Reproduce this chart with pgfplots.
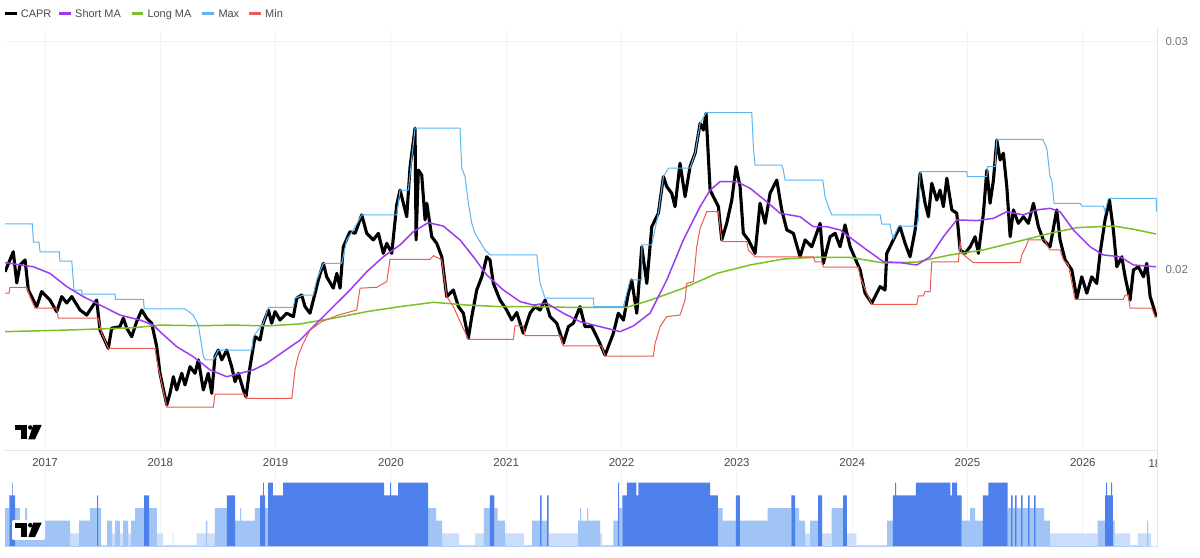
\documentclass[border=0pt]{standalone}
\usepackage{pgfplots}
\pgfplotsset{compat=1.18}
\usepackage{pgfplotstable}
\usepackage{fontspec}
\setmainfont{Liberation Sans}
\definecolor{shortc}{RGB}{155,60,240}
\definecolor{longc}{RGB}{124,192,40}
\definecolor{maxc}{RGB}{92,182,242}
\definecolor{minc}{RGB}{236,92,82}
\definecolor{gridc}{RGB}{241,242,245}
\definecolor{sepc}{RGB}{226,228,234}
\definecolor{labc}{RGB}{72,74,82}
\definecolor{ylabc}{RGB}{112,114,122}
\definecolor{bdark}{RGB}{78,128,235}
\definecolor{blight}{RGB}{160,196,246}
\definecolor{bvlight}{RGB}{202,221,250}

\pgfplotstableread{
x y
2016.653 0.01989
2016.725 0.02077
2016.755 0.01940
2016.783 0.02019
2016.827 0.02041
2016.855 0.01909
2016.899 0.01865
2016.928 0.01836
2016.971 0.01902
2017.043 0.01865
2017.101 0.01814
2017.145 0.01880
2017.188 0.01852
2017.232 0.01880
2017.304 0.01821
2017.362 0.01799
2017.448 0.01865
2017.477 0.01733
2017.549 0.01653
2017.578 0.01741
2017.650 0.01748
2017.679 0.01785
2017.709 0.01741
2017.752 0.01704
2017.795 0.01770
2017.839 0.01821
2017.882 0.01785
2017.925 0.01763
2017.969 0.01660
2017.997 0.01543
2018.056 0.01404
2018.084 0.01455
2018.113 0.01528
2018.142 0.01470
2018.186 0.01543
2018.214 0.01492
2018.258 0.01572
2018.301 0.01543
2018.330 0.01602
2018.373 0.01470
2018.416 0.01543
2018.446 0.01455
2018.474 0.01616
2018.503 0.01645
2018.533 0.01602
2018.576 0.01645
2018.619 0.01572
2018.648 0.01506
2018.677 0.01543
2018.720 0.01470
2018.743 0.01440
2018.778 0.01572
2018.821 0.01704
2018.865 0.01689
2018.893 0.01763
2018.937 0.01821
2018.966 0.01763
2018.995 0.01814
2019.038 0.01777
2019.096 0.01807
2019.154 0.01792
2019.183 0.01873
2019.226 0.01887
2019.255 0.01836
2019.298 0.01807
2019.342 0.01895
2019.370 0.01953
2019.414 0.02026
2019.443 0.01967
2019.500 0.01917
2019.530 0.01982
2019.559 0.01917
2019.587 0.02099
2019.645 0.02165
2019.689 0.02158
2019.747 0.02239
2019.790 0.02158
2019.847 0.02129
2019.891 0.02158
2019.934 0.02070
2019.964 0.02114
2020.007 0.02070
2020.050 0.02283
2020.079 0.02348
2020.137 0.02231
2020.166 0.02451
2020.209 0.02620
2020.218 0.02129
2020.238 0.02436
2020.267 0.02414
2020.296 0.02217
2020.311 0.02290
2020.354 0.02143
2020.397 0.02114
2020.441 0.02055
2020.484 0.01880
2020.541 0.01909
2020.585 0.01836
2020.628 0.01807
2020.671 0.01697
2020.701 0.01792
2020.744 0.01909
2020.788 0.01967
2020.831 0.02055
2020.859 0.02041
2020.888 0.01938
2020.946 0.01865
2021.004 0.01821
2021.048 0.01777
2021.091 0.01810
2021.148 0.01719
2021.206 0.01807
2021.250 0.01836
2021.293 0.01821
2021.337 0.01865
2021.380 0.01792
2021.438 0.01763
2021.495 0.01675
2021.539 0.01748
2021.582 0.01763
2021.640 0.01836
2021.683 0.01748
2021.742 0.01748
2021.799 0.01689
2021.857 0.01623
2021.929 0.01719
2021.972 0.01807
2022.016 0.01777
2022.059 0.01895
2022.088 0.01953
2022.132 0.01807
2022.175 0.02099
2022.219 0.01938
2022.262 0.02187
2022.319 0.02246
2022.363 0.02407
2022.392 0.02363
2022.435 0.02334
2022.464 0.02275
2022.507 0.02466
2022.551 0.02319
2022.594 0.02451
2022.638 0.02510
2022.681 0.02641
2022.710 0.02612
2022.733 0.02685
2022.768 0.02348
2022.796 0.02319
2022.840 0.02275
2022.869 0.02129
2022.912 0.02202
2022.956 0.02304
2022.993 0.02451
2023.028 0.02363
2023.056 0.02158
2023.100 0.02129
2023.158 0.02070
2023.201 0.02290
2023.245 0.02202
2023.288 0.02334
2023.346 0.02392
2023.389 0.02261
2023.433 0.02173
2023.490 0.02158
2023.548 0.02055
2023.592 0.02129
2023.650 0.02099
2023.722 0.02202
2023.750 0.02026
2023.808 0.02143
2023.852 0.02158
2023.895 0.02099
2023.938 0.02195
2023.982 0.02099
2024.069 0.01997
2024.112 0.01895
2024.170 0.01851
2024.242 0.01924
2024.285 0.01909
2024.300 0.02070
2024.357 0.02129
2024.415 0.02187
2024.459 0.02114
2024.502 0.02055
2024.546 0.02173
2024.589 0.02422
2024.632 0.02290
2024.661 0.02231
2024.690 0.02378
2024.734 0.02304
2024.762 0.02348
2024.791 0.02275
2024.821 0.02400
2024.864 0.02261
2024.907 0.02246
2024.936 0.02085
2024.979 0.02070
2025.023 0.02099
2025.066 0.02143
2025.095 0.02070
2025.138 0.02246
2025.168 0.02436
2025.196 0.02290
2025.225 0.02392
2025.254 0.02568
2025.283 0.02480
2025.311 0.02510
2025.341 0.02363
2025.370 0.02143
2025.398 0.02261
2025.441 0.02202
2025.485 0.02231
2025.528 0.02202
2025.572 0.02290
2025.615 0.02187
2025.658 0.02129
2025.716 0.02099
2025.774 0.02261
2025.803 0.02129
2025.847 0.02041
2025.905 0.01997
2025.948 0.01873
2025.991 0.01967
2026.035 0.01895
2026.078 0.01967
2026.121 0.01938
2026.150 0.02070
2026.193 0.02217
2026.231 0.02304
2026.265 0.02173
2026.295 0.02011
2026.338 0.02055
2026.367 0.01967
2026.410 0.01865
2026.439 0.01997
2026.482 0.02011
2026.526 0.01967
2026.555 0.02026
2026.584 0.01880
2026.612 0.01836
2026.636 0.01792
}\capr

\pgfplotstableread{
x y
2016.653 0.02029
2016.899 0.02011
2017.043 0.01982
2017.188 0.01924
2017.332 0.01880
2017.477 0.01843
2017.650 0.01799
2017.824 0.01777
2017.939 0.01755
2017.997 0.01726
2018.142 0.01660
2018.286 0.01616
2018.431 0.01558
2018.576 0.01528
2018.691 0.01543
2018.807 0.01558
2018.923 0.01587
2019.067 0.01638
2019.212 0.01689
2019.356 0.01763
2019.500 0.01836
2019.645 0.01909
2019.790 0.01989
2019.934 0.02055
2020.079 0.02107
2020.194 0.02165
2020.324 0.02205
2020.454 0.02190
2020.599 0.02129
2020.715 0.02055
2020.831 0.01975
2020.975 0.01909
2021.120 0.01858
2021.235 0.01843
2021.351 0.01851
2021.495 0.01807
2021.640 0.01770
2021.813 0.01748
2021.987 0.01726
2022.102 0.01751
2022.247 0.01807
2022.392 0.01953
2022.536 0.02129
2022.681 0.02275
2022.768 0.02348
2022.854 0.02385
2022.999 0.02385
2023.114 0.02356
2023.259 0.02297
2023.375 0.02246
2023.548 0.02231
2023.663 0.02187
2023.780 0.02187
2023.895 0.02173
2024.010 0.02129
2024.127 0.02085
2024.271 0.02033
2024.415 0.02029
2024.560 0.02019
2024.676 0.02055
2024.791 0.02143
2024.907 0.02217
2025.081 0.02214
2025.225 0.02224
2025.341 0.02253
2025.485 0.02239
2025.601 0.02261
2025.716 0.02268
2025.803 0.02253
2025.918 0.02173
2026.063 0.02099
2026.179 0.02063
2026.324 0.02055
2026.439 0.02019
2026.636 0.02011
}\shortma

\pgfplotstableread{
x y
2016.653 0.01726
2017.188 0.01733
2017.766 0.01743
2017.997 0.01755
2018.344 0.01752
2018.633 0.01755
2018.923 0.01751
2019.212 0.01760
2019.500 0.01785
2019.790 0.01814
2020.079 0.01836
2020.368 0.01855
2020.657 0.01843
2020.946 0.01836
2021.235 0.01836
2021.525 0.01833
2021.813 0.01833
2022.045 0.01833
2022.247 0.01864
2022.536 0.01917
2022.826 0.01982
2023.114 0.02019
2023.403 0.02045
2023.693 0.02053
2023.982 0.02052
2024.271 0.02028
2024.560 0.02032
2024.849 0.02063
2025.138 0.02085
2025.428 0.02121
2025.716 0.02158
2025.948 0.02183
2026.265 0.02190
2026.439 0.02176
2026.636 0.02155
}\longma

\pgfplotstableread{
x y
2016.653 0.02199
2016.890 0.02199
2016.900 0.02119
2016.948 0.02119
2016.957 0.02077
2017.124 0.02077
2017.130 0.02036
2017.232 0.02036
2017.252 0.01909
2017.318 0.01909
2017.321 0.01891
2017.607 0.01891
2017.611 0.01868
2017.853 0.01868
2017.861 0.01826
2018.214 0.01826
2018.286 0.01799
2018.330 0.01755
2018.373 0.01616
2018.394 0.01602
2018.460 0.01602
2018.503 0.01645
2018.793 0.01645
2018.807 0.01704
2018.893 0.01763
2018.937 0.01833
2019.154 0.01833
2019.168 0.01873
2019.240 0.01887
2019.327 0.01887
2019.356 0.01953
2019.414 0.02026
2019.573 0.02026
2019.617 0.02129
2019.674 0.02173
2019.747 0.02239
2020.050 0.02239
2020.079 0.02348
2020.151 0.02348
2020.209 0.02620
2020.599 0.02620
2020.614 0.02444
2020.643 0.02407
2020.671 0.02290
2020.701 0.02202
2020.729 0.02158
2020.773 0.02121
2020.816 0.02085
2020.859 0.02063
2021.265 0.02063
2021.293 0.01938
2021.337 0.01873
2021.755 0.01873
2021.761 0.01836
2022.016 0.01836
2022.074 0.01953
2022.175 0.01953
2022.176 0.02107
2022.262 0.02107
2022.319 0.02246
2022.363 0.02407
2022.406 0.02444
2022.594 0.02444
2022.638 0.02510
2022.681 0.02641
2022.733 0.02688
2023.129 0.02688
2023.143 0.02539
2023.158 0.02458
2023.389 0.02458
2023.403 0.02436
2023.418 0.02392
2023.745 0.02392
2023.765 0.02319
2023.794 0.02275
2023.823 0.02239
2024.242 0.02239
2024.257 0.02198
2024.329 0.02198
2024.343 0.02158
2024.357 0.02136
2024.401 0.02190
2024.560 0.02190
2024.574 0.02217
2024.589 0.02429
2024.994 0.02429
2024.999 0.02407
2025.168 0.02407
2025.173 0.02451
2025.239 0.02451
2025.254 0.02571
2025.653 0.02571
2025.688 0.02532
2025.716 0.02407
2025.731 0.02392
2025.751 0.02290
2025.977 0.02290
2025.991 0.02278
2026.179 0.02278
2026.193 0.02253
2026.222 0.02312
2026.636 0.02312
2026.640 0.02253
}\maxline

\pgfplotstableread{
x y
2016.653 0.01895
2016.688 0.01895
2016.696 0.01921
2016.841 0.01921
2016.870 0.01880
2016.913 0.01829
2017.101 0.01829
2017.115 0.01785
2017.462 0.01785
2017.492 0.01719
2017.549 0.01653
2017.954 0.01653
2017.969 0.01602
2018.056 0.01394
2018.460 0.01394
2018.474 0.01451
2018.735 0.01451
2018.749 0.01433
2019.140 0.01433
2019.168 0.01558
2019.197 0.01623
2019.240 0.01675
2019.298 0.01733
2019.400 0.01770
2019.544 0.01799
2019.703 0.01821
2019.732 0.01917
2019.877 0.01921
2019.964 0.01946
2019.992 0.02044
2020.339 0.02044
2020.368 0.02060
2020.441 0.02041
2020.484 0.01880
2020.541 0.01836
2020.671 0.01692
2021.062 0.01692
2021.076 0.01751
2021.148 0.01751
2021.163 0.01708
2021.467 0.01708
2021.495 0.01663
2021.828 0.01663
2021.857 0.01619
2022.276 0.01619
2022.291 0.01675
2022.334 0.01748
2022.392 0.01792
2022.507 0.01799
2022.551 0.01865
2022.565 0.01938
2022.623 0.01946
2022.652 0.02099
2022.681 0.02180
2022.739 0.02253
2022.840 0.02253
2022.869 0.02129
2022.883 0.02121
2023.086 0.02121
2023.100 0.02085
2023.158 0.02055
2023.663 0.02055
2023.678 0.02033
2023.736 0.02033
2023.750 0.02009
2024.054 0.02009
2024.069 0.01967
2024.127 0.01895
2024.170 0.01846
2024.560 0.01846
2024.574 0.01883
2024.618 0.01883
2024.632 0.01902
2024.676 0.01902
2024.690 0.02033
2024.921 0.02033
2024.936 0.02121
2024.950 0.02070
2025.051 0.02029
2025.456 0.02029
2025.471 0.02063
2025.500 0.02092
2025.528 0.02129
2025.673 0.02129
2025.688 0.02107
2025.716 0.02085
2025.803 0.02085
2025.832 0.02041
2025.875 0.02019
2025.933 0.01868
2026.352 0.01868
2026.367 0.01887
2026.395 0.01887
2026.410 0.01829
2026.598 0.01829
2026.627 0.01792
2026.636 0.01786
}\minline

\pgfplotstableread{
x l
2016.653 3
2016.690 4
2016.714 5
2016.720 4
2016.740 3
2016.783 2
2016.827 3
2016.844 2
2017.217 1
2017.295 2
2017.390 3
2017.451 4
2017.460 3
2017.486 0
2017.538 2
2017.581 1
2017.607 2
2017.650 1
2017.677 2
2017.720 1
2017.746 2
2017.781 3
2017.859 4
2017.902 3
2017.971 1
2018.023 0
2018.106 1
2018.114 0
2018.314 1
2018.396 2
2018.409 1
2018.474 3
2018.578 4
2018.648 2
2018.691 3
2018.700 2
2018.821 3
2018.865 4
2018.891 5
2018.899 4
2018.908 3
2018.934 5
2018.977 4
2019.064 5
2019.940 4
2019.992 5
2020.001 4
2020.062 5
2020.322 3
2020.391 2
2020.443 1
2020.591 0
2020.729 1
2020.807 3
2020.859 4
2020.898 3
2020.925 2
2020.990 1
2021.154 0
2021.224 2
2021.293 4
2021.306 2
2021.354 4
2021.367 1
2021.623 2
2021.640 3
2021.649 2
2021.701 3
2021.709 2
2021.813 1
2021.831 0
2021.930 2
2021.970 5
2021.978 3
2022.006 4
2022.046 5
2022.129 4
2022.146 5
2022.769 4
2022.836 3
2022.876 2
2022.992 4
2023.025 2
2023.267 3
2023.473 4
2023.506 3
2023.539 2
2023.592 1
2023.635 2
2023.704 4
2023.739 1
2023.821 3
2023.921 4
2023.954 1
2024.037 0
2024.303 2
2024.353 4
2024.372 5
2024.381 4
2024.552 5
2024.851 4
2024.866 5
2024.910 4
2024.950 2
2025.023 3
2025.066 2
2025.133 4
2025.182 5
2025.349 3
2025.378 4
2025.391 3
2025.413 4
2025.426 3
2025.465 4
2025.478 3
2025.526 4
2025.539 3
2025.578 4
2025.591 3
2025.664 2
2025.714 1
2026.128 2
2026.193 4
2026.202 5
2026.211 4
2026.245 5
2026.254 4
2026.261 2
2026.277 1
2026.410 0
2026.477 1
2026.558 2
2026.566 1
2026.592 0
2026.644 0
}\lvl

\newcommand{\tvlogo}[2]{%
  \fill[black] (#1,#2) rectangle (#1+11.7,#2-5);
  \fill[black] (#1+5.7,#2) rectangle (#1+11.7,#2-14.5);
  \fill[black] (#1+15.3,#2-2.5) circle (2.3);
  \fill[black] (#1+18.3,#2) -- (#1+26.7,#2) -- (#1+20,#2-14.5) -- (#1+13.3,#2-14.5) -- cycle;
}

\begin{document}
\begin{tikzpicture}[x=1bp,y=1bp]
\useasboundingbox (0,0) rectangle (1200,558);
\fill[white] (0,0) rectangle (1200,558);

\begin{axis}[
  at={(5bp,107bp)}, anchor=south west, scale only axis,
  width=1152bp, height=421bp,
  xmin=2016.653, xmax=2026.644,
  ymin=0.0120167, ymax=0.0305141,
  axis line style={draw=none},
  xtick={2017,2018,...,2026},
  xticklabels={2017,2018,2019,2020,2021,2022,2023,2024,2025,2026},
  ytick={0.02,0.03}, yticklabels={0.02,0.03},
  scaled y ticks=false,
  yticklabel pos=right,
  xmajorgrids, ymajorgrids,
  major grid style={draw=gridc, line width=1bp},
  major tick length=0pt,
  tick style={draw=none},
  xticklabel style={font=\fontsize{11.5}{13}\selectfont, text=labc, anchor=center, yshift=-12bp},
  yticklabel style={font=\fontsize{11.5}{13}\selectfont, text=ylabc, anchor=west, xshift=5bp},
]
\addplot[black, line width=3.1bp, line join=round] table[x=x,y=y] {\capr};
\addplot[longc, line width=1.5bp] table[x=x,y=y] {\longma};
\addplot[shortc, line width=1.5bp] table[x=x,y=y] {\shortma};
\addplot[maxc, line width=1bp] table[x=x,y=y] {\maxline};
\addplot[minc, line width=1bp] table[x=x,y=y] {\minline};
\end{axis}

\begin{axis}[
  at={(5bp,10bp)}, anchor=south west, scale only axis,
  width=1152bp, height=78bp,
  xmin=2016.653, xmax=2026.644,
  ymin=-0.15, ymax=6,
  axis line style={draw=none},
  xtick={2017,2018,...,2026}, xticklabels={},
  ytick=\empty,
  xmajorgrids,
  major grid style={draw=gridc, line width=1bp},
  tick style={draw=none},
]
\addplot[draw=bvlight, line width=1.2bp] coordinates {(2016.653,0) (2026.592,0)};
\addplot[const plot, fill=bvlight, draw=none] table[x=x, y expr={ifthenelse(\thisrow{l}==1,1,0)}] {\lvl} \closedcycle;
\addplot[const plot, fill=blight, draw=none] table[x=x, y expr={ifthenelse(\thisrow{l}==2,2,ifthenelse(\thisrow{l}==3,3,0))}] {\lvl} \closedcycle;
\addplot[const plot, fill=bdark, draw=none] table[x=x, y expr={ifthenelse(\thisrow{l}>3,\thisrow{l},0)}] {\lvl} \closedcycle;
\end{axis}

% separators
\draw[sepc, line width=1bp] (5,107) -- (1157,107);
\draw[sepc, line width=1bp] (1157,10) -- (1157,530);

% cut-off last date label
\begin{scope}
\clip (0,0) rectangle (1156.5,558);
\node[anchor=west, font=\fontsize{11.5}{13}\selectfont, text=labc, inner sep=0pt] at (1148.3,94.5) {18};
\end{scope}

% legend
\def\ly{544.3}
\def\lty{540.2}
\draw[black, line width=2.5bp] (5,\ly) -- (16.7,\ly);
\node[anchor=base west, inner sep=0pt, font=\fontsize{11}{13}\selectfont, text=labc] at (20.7,\lty) {CAPR};
\draw[shortc, line width=2.5bp] (59.3,\ly) -- (71,\ly);
\node[anchor=base west, inner sep=0pt, font=\fontsize{11}{13}\selectfont, text=labc] at (75,\lty) {Short MA};
\draw[longc, line width=2.5bp] (131.7,\ly) -- (143.3,\ly);
\node[anchor=base west, inner sep=0pt, font=\fontsize{11}{13}\selectfont, text=labc] at (147.3,\lty) {Long MA};
\draw[maxc, line width=2.5bp] (202.3,\ly) -- (214,\ly);
\node[anchor=base west, inner sep=0pt, font=\fontsize{11}{13}\selectfont, text=labc] at (218.3,\lty) {Max};
\draw[minc, line width=2.5bp] (249.3,\ly) -- (261,\ly);
\node[anchor=base west, inner sep=0pt, font=\fontsize{11}{13}\selectfont, text=labc] at (265,\lty) {Min};

% logos
\tvlogo{15}{133}
\begin{scope}
\fill[white, rounded corners=2bp] (12,38) rectangle (45,18);
\end{scope}
\tvlogo{15}{35.3}
\end{tikzpicture}
\end{document}
